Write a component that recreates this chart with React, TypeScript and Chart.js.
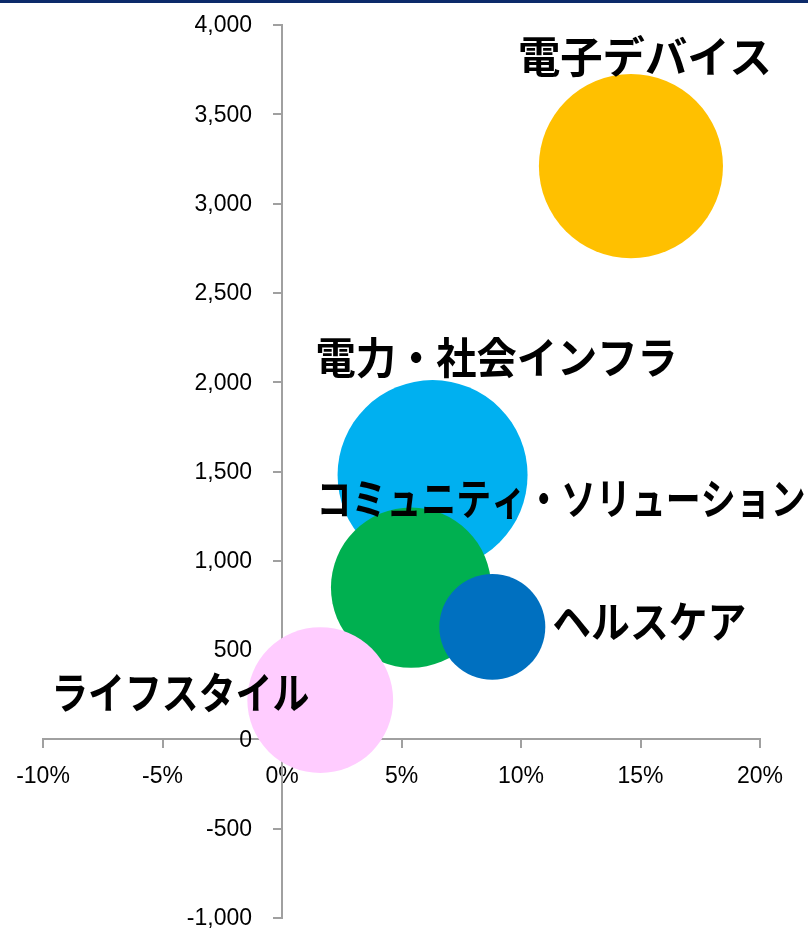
import React, { useEffect, useRef } from 'react';
import { Chart, registerables } from 'chart.js';
Chart.register(...registerables);

// ---- data ----
const segments = ['電子デバイス', '電力・社会インフラ', 'コミュニティ・ソリューション', 'ヘルスケア', 'ライフスタイル'];
const growthRates = [14.6, 6.3, 5.4, 8.8, 1.6]; // x (%)
const operatingIncome = [3210, 1480, 850, 630, 220]; // y
const sales = [16900, 18000, 12800, 5600, 10600]; // bubble size
const xTicks = [-10, -5, 0, 5, 10, 15, 20];
const yTicks = [-1000, -500, 0, 500, 1000, 1500, 2000, 2500, 3000, 3500, 4000];

// ---- style ----
const colors = ['#FFC000', '#00B0F0', '#00B050', '#0070C0', '#FFCCFF'];
// [dx, dy, align, maxWidth]
const labelOffsets: [number, number, CanvasTextAlign, number][] = [
  [14, -109, 'center', 254],
  [64, -117, 'center', 362],
  [150, -89, 'center', 489],
  [60, -5, 'left', 194],
  [-140, -7, 'center', 258],
];
const MAX_R = 95;
const maxSales = Math.max(...sales);
const AXIS_COLOR = '#a0a0a0';
const TICK_FONT = '"Liberation Sans", Arial, sans-serif';
const fmtY = (v: number) => v.toLocaleString('en-US');

const labelPlugin = {
  id: 'bubbleLabels',
  afterDatasetsDraw(chart: any) {
    const ctx = chart.ctx;
    const meta = chart.getDatasetMeta(0);
    ctx.save();
    ctx.fillStyle = '#000';
    ctx.font = 'bold 43px "Noto Sans CJK JP", sans-serif';
    ctx.textBaseline = 'middle';
    meta.data.forEach((el: any, i: number) => {
      const [dx, dy, align, mw] = labelOffsets[i];
      ctx.textAlign = align;
      ctx.fillText(segments[i], el.x + dx, el.y + dy, mw);
    });
    ctx.restore();
  },
};

const yLabelPlugin = {
  id: 'yLabels',
  beforeDatasetsDraw(chart: any) {
    const ctx = chart.ctx;
    const ys = chart.scales.y;
    const ax = chart.scales.x.getPixelForValue(0);
    ctx.save();
    ctx.fillStyle = '#000';
    ctx.font = `23px ${TICK_FONT}`;
    ctx.textAlign = 'right';
    ctx.textBaseline = 'middle';
    ys.ticks.forEach((t: any) => {
      ctx.fillText(fmtY(t.value), ax - 30, ys.getPixelForValue(t.value) + 1);
    });
    ctx.restore();
  },
};

export default function App() {
  const ref = useRef<HTMLCanvasElement>(null);
  useEffect(() => {
    const chart = new Chart(ref.current!, {
      type: 'bubble',
      data: {
        datasets: [
          {
            data: segments.map((_, i) => ({
              x: growthRates[i],
              y: operatingIncome[i],
              r: MAX_R * Math.sqrt(sales[i] / maxSales),
            })),
            backgroundColor: colors,
            borderWidth: 0,
            hoverBorderWidth: 0,
            clip: false as any,
          },
        ],
      },
      options: {
        responsive: false,
        animation: false,
        layout: { autoPadding: false, padding: { left: 43, right: 48, top: 25, bottom: 14 } } as any,
        plugins: { legend: { display: false }, tooltip: { enabled: false } },
        scales: {
          x: {
            type: 'linear',
            position: { y: 0 } as any,
            min: xTicks[0],
            max: xTicks[xTicks.length - 1],
            afterBuildTicks: (s: any) => { s.ticks = xTicks.map((v) => ({ value: v })); },
            afterFit: (s: any) => { s.height = 0; },
            ticks: {
              color: '#000',
              font: { family: TICK_FONT, size: 23 },
              padding: 15,
              maxRotation: 0,
              autoSkip: false,
              callback: (v: any) => `${v}%`,
            },
            grid: { drawOnChartArea: false, drawTicks: true, tickLength: 8, color: AXIS_COLOR, lineWidth: 2 },
            border: { display: true, color: AXIS_COLOR, width: 2 },
          },
          y: {
            type: 'linear',
            position: { x: 0 } as any,
            min: yTicks[0],
            max: yTicks[yTicks.length - 1],
            afterBuildTicks: (s: any) => { s.ticks = yTicks.map((v) => ({ value: v })); },
            afterFit: (s: any) => { s.width = 0; },
            ticks: { display: false },
            grid: { drawOnChartArea: false, drawTicks: true, tickLength: 8, color: AXIS_COLOR, lineWidth: 2 },
            border: { display: true, color: AXIS_COLOR, width: 2 },
          },
        },
      },
      plugins: [yLabelPlugin, labelPlugin],
    });
    return () => chart.destroy();
  }, []);
  return (
    <div style={{ position: 'absolute', left: 0, top: 0, width: 808, height: 932, background: '#fff' }}>
      <canvas ref={ref} width={808} height={932} style={{ display: 'block', width: 808, height: 932 }} />
      <div style={{ position: 'absolute', left: 0, top: 0, width: 808, height: 3, background: '#0c2a6a' }} />
    </div>
  );
}
